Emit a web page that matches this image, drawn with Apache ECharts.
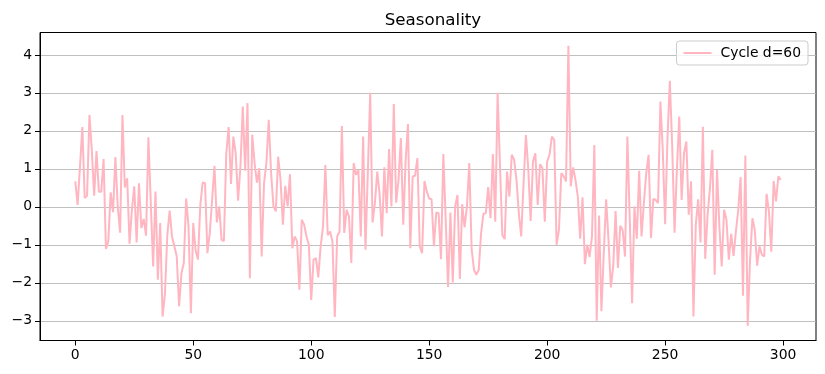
<!DOCTYPE html>
<html>
<head>
<meta charset="utf-8">
<script src="https://cdn.jsdelivr.net/npm/echarts@6/dist/echarts.min.js"></script>
<style>
html,body{margin:0;padding:0;background:#fff;}
#chart{width:825px;height:374px;}
</style>
</head>
<body>
<div id="chart"></div>
<script>
const titleText = 'Seasonality';
const seriesName = 'Cycle d=60';
const xTicks = [0, 50, 100, 150, 200, 250, 300];
const yTicks = [-3, -2, -1, 0, 1, 2, 3, 4];
const cycleValues = [
  0.67,0.05,1.06,2.1,0.23,0.29,2.42,1.5,0.29,1.47,
  0.4,0.4,1.26,-1.11,-0.91,0.38,-0.14,1.31,0.0,-0.68,
  2.42,0.51,0.75,-0.97,-0.08,0.54,-0.94,0.62,-0.56,-0.32,
  -0.76,1.83,0.1,-1.57,0.4,-1.92,-0.43,-2.89,-2.3,-0.75,
  -0.1,-0.78,-1.04,-1.3,-2.62,-1.75,-1.48,0.22,-0.52,-2.8,
  -0.43,-1.15,-1.39,0.05,0.64,0.62,-1.22,-0.69,0.18,1.08,
  -0.41,0.01,-0.87,-0.9,1.41,2.1,0.6,1.85,1.41,0.16,
  1.06,2.64,0.95,2.73,-1.88,1.9,1.15,0.64,1.02,-1.31,
  0.62,1.15,2.29,0.89,0.01,-0.12,1.32,0.71,-0.47,0.55,
  0.01,0.86,-1.09,-0.78,-0.91,-2.18,-0.34,-0.47,-0.78,-1.0,
  -2.45,-1.39,-1.35,-1.86,-1.04,-0.52,1.1,-0.75,-0.65,-0.91,
  -2.9,-0.78,-0.65,2.13,-0.69,-0.08,-0.25,-1.48,1.15,0.84,
  0.97,-0.78,1.85,-1.13,0.9,3.0,-0.41,0.1,0.93,0.32,
  -0.78,1.04,-0.17,1.52,0.01,2.71,0.11,0.71,1.81,-0.47,
  1.2,2.18,-1.09,0.8,0.82,1.28,-1.04,-1.22,0.68,0.4,
  0.22,0.2,-1.04,-0.15,-0.17,-1.38,1.39,-0.34,-2.11,-0.15,
  -1.99,0.01,0.31,-1.9,0.07,-0.54,0.01,1.15,-1.13,-1.66,
  -1.79,-1.66,-0.69,-0.18,-0.17,0.52,-0.3,1.39,-0.39,3.0,
  1.1,-0.74,-0.85,0.93,0.27,1.37,1.24,0.71,-0.17,-0.78,
  0.62,1.89,1.0,-0.37,1.19,1.41,0.05,1.12,1.02,-0.39,
  1.19,1.37,1.85,1.76,-1.0,-0.61,0.89,0.8,0.67,4.24,
  0.54,1.04,0.71,0.27,-0.84,0.25,-1.51,-1.0,-1.32,-0.78,
  1.63,-3.0,-0.23,-2.75,-1.22,0.2,-0.87,-2.12,-1.57,-0.11,
  -1.61,-0.5,-0.61,-1.31,1.85,-0.3,-2.54,0.01,-0.84,0.95,
  -0.78,0.1,0.89,1.37,-0.82,0.21,0.18,0.1,2.77,1.5,
  -0.46,1.8,3.32,1.6,-0.68,1.0,2.38,0.18,1.41,1.72,
  -0.21,0.67,-2.89,-0.47,0.2,-0.94,2.11,-1.37,-0.21,0.49,
  1.5,-1.79,0.97,-0.52,-1.57,-0.08,-0.34,-1.39,-0.71,-1.29,
  -0.65,-0.08,0.78,-2.34,1.35,-3.13,-1.39,-0.3,-0.61,-1.55,
  -1.04,-1.26,-1.31,0.34,-0.12,-1.18,0.68,0.14,0.8,0.71
];

const font = 'DejaVu Sans';
const chart = echarts.init(document.getElementById('chart'), null, {renderer: 'canvas'});
const seriesData = cycleValues.map((v, i) => [i, v]);
const fmt = v => String(v).replace('-', '\u2212');

chart.setOption({
  animation: false,
  backgroundColor: '#fff',
  title: {
    text: titleText,
    left: 428,
    textAlign: 'center',
    top: 7,
    textStyle: {fontFamily: font, fontSize: 16.7, fontWeight: 'normal', color: '#000'}
  },
  legend: {
    data: [{name: seriesName, icon: 'rect'}],
    right: 17,
    top: 41,
    padding: [5, 7],
    itemWidth: 28,
    itemHeight: 2,
    backgroundColor: 'rgba(255,255,255,0.8)',
    borderColor: '#cccccc',
    borderWidth: 1,
    borderRadius: 3,
    textStyle: {fontFamily: font, fontSize: 13.9, color: '#000', padding: [0, 0, 0, 4]}
  },
  grid: {
    left: 40, right: 9, top: 32.5, bottom: 33.5,
    show: true, borderColor: '#000', borderWidth: 1, backgroundColor: 'transparent'
  },
  xAxis: {
    type: 'value',
    min: -14.95,
    max: 313.95,
    axisLine: {show: true, onZero: false, lineStyle: {color: '#000', width: 1}},
    axisTick: {show: true, customValues: xTicks, length: 5, inside: false, lineStyle: {color: '#000', width: 1}},
    axisLabel: {customValues: xTicks, margin: 8, color: '#000', fontFamily: font, fontSize: 13.9, formatter: fmt},
    splitLine: {show: false}
  },
  yAxis: {
    type: 'value',
    min: -3.52,
    max: 4.59,
    axisLine: {show: true, onZero: false, lineStyle: {color: '#000', width: 1}},
    axisTick: {show: true, customValues: yTicks, length: 5, inside: false, lineStyle: {color: '#000', width: 1}},
    axisLabel: {customValues: yTicks, margin: 8, color: '#000', fontFamily: font, fontSize: 13.9, formatter: fmt},
    splitLine: {show: true, lineStyle: {color: '#b0b0b0', width: 0.8}}
  },
  series: [{
    name: seriesName,
    type: 'line',
    data: seriesData,
    symbol: 'none',
    lineStyle: {color: '#FFB6C1', width: 2},
    itemStyle: {color: '#FFB6C1'}
  }]
});
</script>
</body>
</html>
